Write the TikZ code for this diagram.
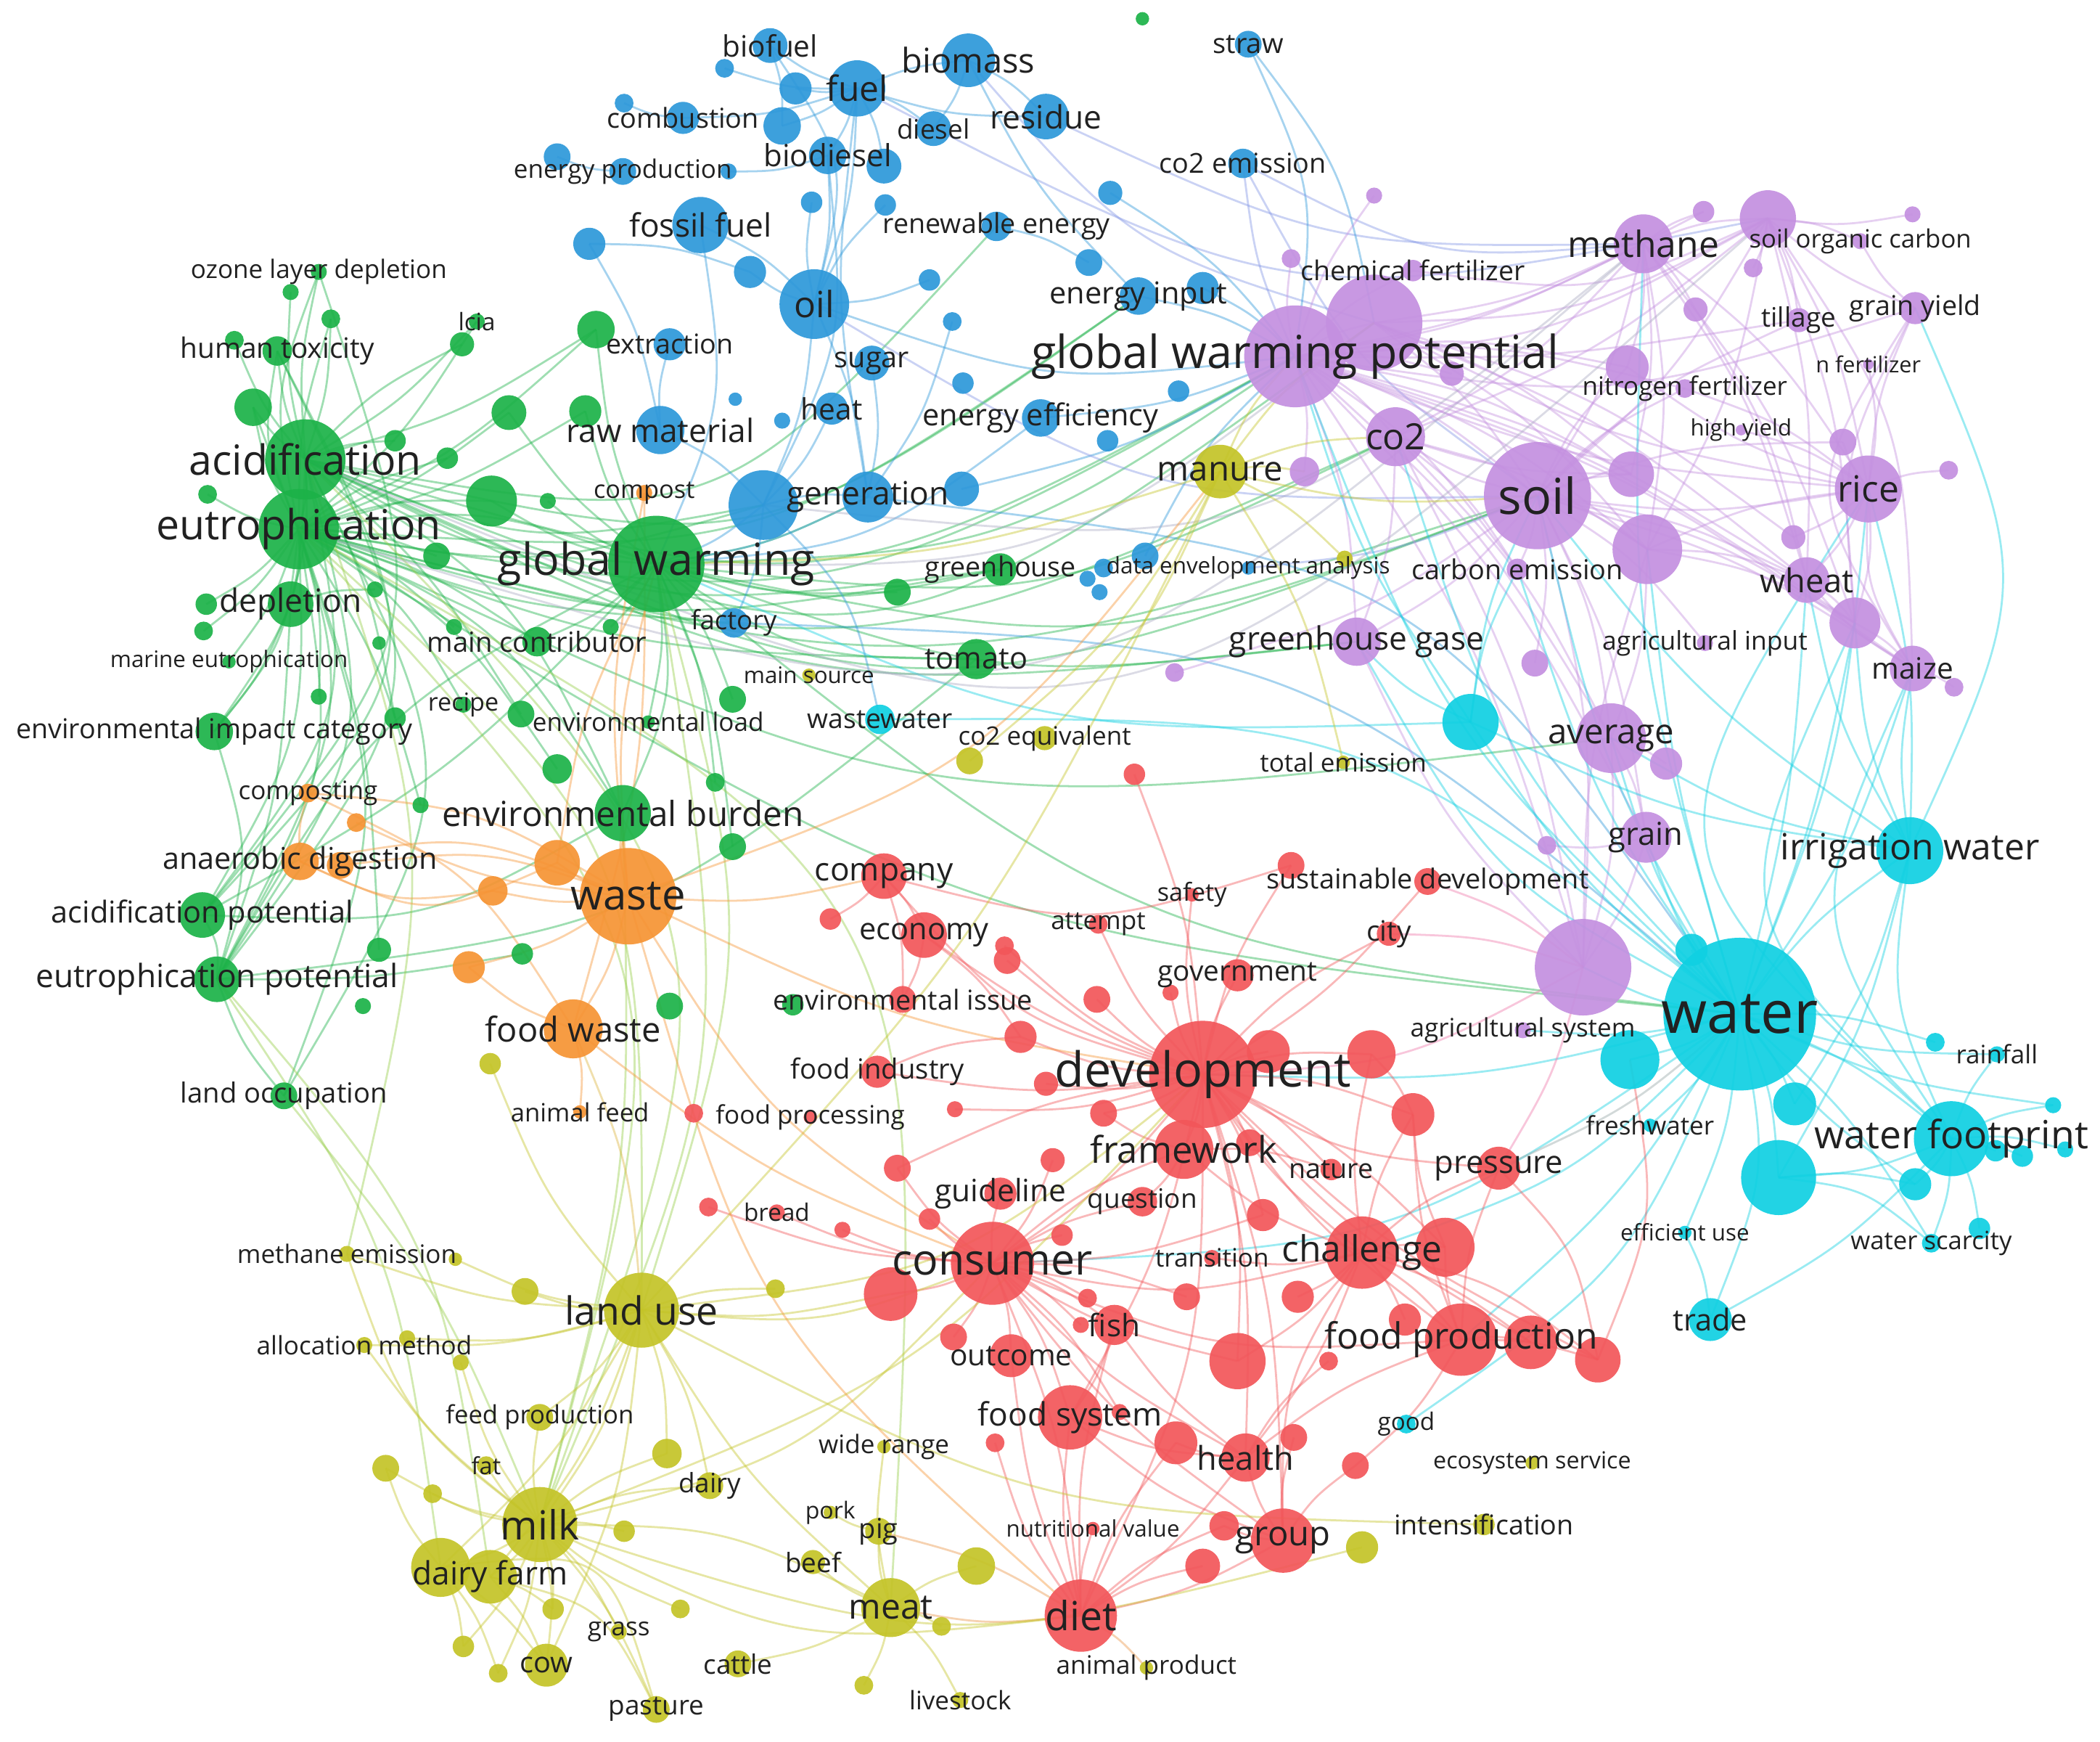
\documentclass[tikz,border=0pt]{standalone}
\usepackage{fontspec}
\setmainfont{Open Sans}
\usetikzlibrary{calc}
\pgfdeclarelayer{bg}
\pgfdeclarelayer{edges}
\pgfdeclarelayer{labels}
\pgfsetlayers{bg,edges,main,labels}
\definecolor{cR}{RGB}{242,86,90}
\definecolor{cG}{RGB}{28,178,72}
\definecolor{cB}{RGB}{45,152,218}
\definecolor{cY}{RGB}{196,196,40}
\definecolor{cP}{RGB}{196,144,224}
\definecolor{cC}{RGB}{16,208,226}
\definecolor{cO}{RGB}{246,148,52}
\definecolor{cGY}{RGB}{150,205,70}
\definecolor{cBP}{RGB}{130,150,230}
\definecolor{cPX}{RGB}{170,170,195}
\definecolor{cRP}{RGB}{240,120,170}
\definecolor{cRC}{RGB}{150,165,165}
\definecolor{cYR}{RGB}{235,150,70}
\definecolor{cOY}{RGB}{220,180,60}
\tikzset{
 vnode/.style={circle,inner sep=0pt,draw=none,fill opacity=0.92},
 vlabel/.style={inner sep=0pt,text=black!87},
 edge/.style={line width=1.5pt,draw opacity=0.42}
}
\newcommand\vn[7]{\node[vnode,fill=#5,minimum size={2*#4pt}] (#1) at (#2,#3) {};
 \begin{pgfonlayer}{labels}\node[vlabel,font=\fontsize{#6}{#6}\selectfont] (#1-l) at (#2,#3) {#7};\end{pgfonlayer}}
\newcommand\vd[5]{\node[vnode,fill=#5,minimum size={2*#4pt}] (#1) at (#2,#3) {};}
\begin{document}
\begin{tikzpicture}[x=1pt,y=-1pt]
\begin{pgfonlayer}{bg}
\fill[white] (0,0) rectangle (1568,1300);
\end{pgfonlayer}
\useasboundingbox (0,0) rectangle (1568,1300);
% ---------- blue
\vn{biofuel}{575}{34}{13}{cB}{22}{biofuel}
\vd{b2}{541}{51}{7}{cB}
\vd{b3}{594}{66}{12}{cB}
\vn{fuel}{640}{66}{21}{cB}{26}{fuel}
\vn{biomass}{723}{45}{20}{cB}{25.5}{biomass}
\vn{comb}{510}{88}{12}{cB}{20.5}{combustion}
\vd{b4}{466}{77}{7}{cB}
\vd{b5}{584}{94}{14}{cB}
\vn{diesel}{697}{96}{13}{cB}{20}{diesel}
\vn{residue}{781}{87}{17}{cB}{24}{residue}
\vn{biodiesel}{618}{116}{14}{cB}{22.8}{biodiesel}
\vd{b6}{660}{124}{13}{cB}
\vd{b7}{544}{128}{6}{cB}
\vn{enprod}{465}{128}{10}{cB}{19}{energy production}
\vd{b8}{416}{117}{10}{cB}
\vn{co2em}{928}{122}{11}{cB}{20.5}{co2 emission}
\vd{b9}{606}{151}{8}{cB}
\vd{b10}{661}{153}{8}{cB}
\vd{b11}{829}{144}{9}{cB}
\vn{renew}{744}{169}{11}{cB}{20.4}{renewable energy}
\vn{fossil}{523}{168}{21}{cB}{24}{fossil fuel}
\vd{b12}{440}{182}{12}{cB}
\vd{b13}{560}{203}{12}{cB}
\vn{oil}{608}{227}{26}{cB}{27}{oil}
\vd{b14}{694}{209}{8}{cB}
\vd{b15}{813}{196}{10}{cB}
\vn{eninput}{850}{221}{14}{cB}{22.5}{energy input}
\vd{b16}{898}{215}{12}{cB}
\vn{extract}{500}{257}{12}{cB}{20.4}{extraction}
\vd{b17}{711}{240}{7}{cB}
\vn{sugar}{651}{271}{13}{cB}{21.5}{sugar}
\vd{b18}{719}{286}{8}{cB}
\vd{b19}{880}{292}{8}{cB}
\vd{b20}{549}{298}{5}{cB}
\vd{b21}{584}{314}{6}{cB}
\vn{heat}{621}{305}{12}{cB}{22}{heat}
\vn{rawmat}{493}{321}{18}{cB}{24}{raw material}
\vn{eneff}{777}{312}{14}{cB}{22.5}{energy efficiency}
\vd{b22}{827}{329}{8}{cB}
\vd{b23}{570}{377}{26}{cB}
\vn{gener}{648}{371}{19}{cB}{24}{generation}
\vd{b24}{718}{365}{13}{cB}
\vn{factory}{548}{465}{11}{cB}{19.8}{factory}
\vd{b25}{855}{415}{10}{cB}
\vd{b26}{824}{424}{7}{cB}
\vd{b27}{812}{432}{6}{cB}
\vd{b28}{821}{442}{6}{cB}
\vn{dea}{932}{424}{5}{cB}{17}{data envelopment analysis}
\vn{straw}{932}{33}{10}{cB}{20.6}{straw}
% ---------- cyan
\vn{wastew}{657}{537}{11}{cC}{20.2}{wastewater}
\vd{c1}{1098}{539}{21}{cC}
\vn{irrig}{1426}{635}{25}{cC}{27}{irrigation water}
\vn{water}{1299}{757}{57}{cC}{44}{water}
\vd{c2}{1263}{709}{12}{cC}
\vd{c3}{1217}{791}{22}{cC}
\vd{c4}{1445}{778}{7}{cC}
\vn{rainfall}{1491}{787}{6}{cC}{19}{rainfall}
\vd{c5}{1340}{824}{16}{cC}
\vn{freshw}{1232}{840}{5}{cC}{19}{freshwater}
\vd{c6}{1533}{825}{6}{cC}
\vn{wfoot}{1457}{850}{28}{cC}{29}{water footprint}
\vd{c7}{1490}{859}{8}{cC}
\vd{c8}{1510}{863}{8}{cC}
\vd{c9}{1542}{858}{6}{cC}
\vd{c10}{1328}{879}{28}{cC}
\vd{c11}{1430}{884}{12}{cC}
\vd{c12}{1478}{917}{8}{cC}
\vn{wscar}{1442}{928}{7}{cC}{18.8}{water scarcity}
\vn{effuse}{1258}{920}{5}{cC}{17}{efficient use}
\vn{trade}{1277}{985}{16}{cC}{22.5}{trade}
\vn{good}{1050}{1063}{7}{cC}{18}{good}
% ---------- green
\vd{g0}{853}{14}{5}{cG}
\vn{ozone}{238}{203}{6}{cG}{19}{ozone layer depletion}
\vd{g2}{217}{218}{6}{cG}
\vd{g3}{247}{238}{7}{cG}
\vd{g4}{175}{254}{7}{cG}
\vn{humtox}{207}{262}{11}{cG}{21}{human toxicity}
\vn{lcia}{356}{240}{6}{cG}{18}{lcia}
\vd{g5}{345}{257}{9}{cG}
\vd{g6}{445}{246}{14}{cG}
\vd{g7}{189}{304}{14}{cG}
\vn{acid}{228}{343}{30}{cG}{31}{acidification}
\vd{g8}{295}{329}{8}{cG}
\vd{g9}{334}{342}{8}{cG}
\vd{g10}{380}{308}{13}{cG}
\vd{g11}{437}{307}{12}{cG}
\vd{g12}{155}{369}{7}{cG}
\vd{g13}{367}{374}{19}{cG}
\vd{g14}{409}{374}{6}{cG}
\vn{eutro}{223}{395}{30}{cG}{31}{eutrophication}
\vd{g15}{326}{415}{10}{cG}
\vn{gw}{490}{421}{36}{cG}{33}{global warming}
\vn{depl}{217}{451}{17}{cG}{24}{depletion}
\vd{g16}{154}{451}{8}{cG}
\vd{g17}{152}{471}{7}{cG}
\vd{g18}{280}{440}{6}{cG}
\vd{g19}{283}{480}{5}{cG}
\vd{g20}{339}{468}{6}{cG}
\vn{maincon}{401}{479}{11}{cG}{20.7}{main contributor}
\vd{g21}{456}{468}{6}{cG}
\vn{marine}{171}{494}{5}{cG}{17}{marine eutrophication}
\vd{g22}{238}{520}{6}{cG}
\vn{recipe}{346}{526}{6}{cG}{18.5}{recipe}
\vd{g23}{295}{536}{8}{cG}
\vd{g24}{389}{533}{10}{cG}
\vn{envimp}{160}{546}{14}{cG}{20.4}{environmental impact category}
\vn{envload}{484}{539}{5}{cG}{19}{environmental load}
\vd{g25}{416}{574}{11}{cG}
\vd{g26}{534}{584}{7}{cG}
\vd{g27}{314}{601}{6}{cG}
\vn{envburd}{465}{607}{21}{cG}{25.8}{environmental burden}
\vd{g28}{547}{522}{10}{cG}
\vd{g29}{547}{632}{10}{cG}
\vd{g30}{670}{442}{10}{cG}
\vn{greenh}{747}{425}{12}{cG}{20.4}{greenhouse}
\vn{tomato}{729}{492}{15}{cG}{22.5}{tomato}
\vn{acidpot}{151}{683}{17}{cG}{22.5}{acidification potential}
\vd{g31}{283}{709}{9}{cG}
\vd{g32}{390}{712}{8}{cG}
\vn{eutpot}{162}{731}{17}{cG}{24}{eutrophication potential}
\vd{g33}{271}{751}{6}{cG}
\vd{g34}{500}{751}{10}{cG}
\vn{landocc}{212}{818}{10}{cG}{20.7}{land occupation}
\vd{g35}{592}{750}{8}{cG}
% ---------- orange
\vn{compost}{481}{368}{6}{cO}{18.6}{compost}
\vn{composting}{230}{592}{7}{cO}{19}{composting}
\vd{o1}{266}{614}{7}{cO}
\vn{anaer}{224}{643}{14}{cO}{22.4}{anaerobic digestion}
\vd{o2}{254}{646}{10}{cO}
\vd{o3}{416}{644}{17}{cO}
\vd{o4}{368}{665}{11}{cO}
\vn{waste}{469}{669}{36}{cO}{31.5}{waste}
\vd{o5}{350}{722}{12}{cO}
\vn{foodwaste}{428}{768}{22}{cO}{25.5}{food waste}
\vn{animfeed}{433}{830}{5}{cO}{18.8}{animal feed}
% ---------- purple
\vd{p1}{1026}{146}{6}{cP}
\vd{p2}{964}{193}{7}{cP}
\vn{chemfert}{1055}{202}{8}{cP}{20.3}{chemical fertilizer}
\vd{p3}{1026}{241}{36}{cP}
\vn{gwp}{967}{266}{38}{cP}{34}{global warming potential}
\vn{methane}{1227}{182}{22}{cP}{27}{methane}
\vd{p4}{1272}{158}{8}{cP}
\vd{p5}{1320}{163}{21}{cP}
\vn{soc}{1389}{180}{6}{cP}{18.8}{soil organic carbon}
\vd{p6}{1428}{160}{6}{cP}
\vd{p7}{1309}{200}{7}{cP}
\vd{p7b}{1266}{231}{9}{cP}
\vn{tillage}{1343}{239}{9}{cP}{20}{tillage}
\vn{grainy}{1430}{230}{12}{cP}{20.4}{grain yield}
\vn{nfert}{1395}{272}{4}{cP}{16.6}{n fertilizer}
\vd{p8}{1215}{274}{16}{cP}
\vd{p9}{1084}{279}{9}{cP}
\vn{nitfert}{1258}{290}{7}{cP}{19}{nitrogen fertilizer}
\vn{highy}{1300}{321}{4}{cP}{16.9}{high yield}
\vd{p10}{1376}{330}{10}{cP}
\vd{p11}{1455}{351}{7}{cP}
\vn{co2}{1042}{326}{22}{cP}{27}{co2}
\vd{p12}{974}{352}{11}{cP}
\vn{soil}{1148}{370}{40}{cP}{37}{soil}
\vd{p13}{1218}{354}{17}{cP}
\vn{rice}{1395}{365}{25}{cP}{27}{rice}
\vd{p14}{1230}{410}{26}{cP}
\vd{p15}{1339}{401}{9}{cP}
\vn{carbem}{1133}{425}{8}{cP}{20.5}{carbon emission}
\vn{wheat}{1349}{433}{17}{cP}{24.5}{wheat}
\vd{p16}{1385}{465}{19}{cP}
\vn{agrinp}{1273}{480}{6}{cP}{19.2}{agricultural input}
\vd{p17}{1146}{495}{10}{cP}
\vn{maize}{1428}{499}{17}{cP}{22}{maize}
\vd{p18}{1459}{513}{7}{cP}
\vn{ghg}{1013}{479}{18}{cP}{24}{greenhouse gase}
\vd{p19}{877}{502}{7}{cP}
\vn{average}{1203}{551}{26}{cP}{25.7}{average}
\vd{p20}{1244}{570}{12}{cP}
\vn{grain}{1229}{625}{19}{cP}{23.6}{grain}
\vd{p21}{1155}{631}{7}{cP}
\vd{p22}{1182}{722}{36}{cP}
\vn{agrsys}{1137}{769}{6}{cP}{19}{agricultural system}
% ---------- yellow
\vn{manure}{911}{352}{20}{cY}{25.7}{manure}
\vd{y1}{1004}{417}{6}{cY}
\vn{msource}{604}{504}{5}{cY}{17}{main source}
\vd{y2}{724}{568}{10}{cY}
\vn{co2eq}{780}{551}{9}{cY}{19}{co2 equivalent}
\vn{totem}{1003}{569}{5}{cY}{19}{total emission}
\vd{y3}{366}{794}{8}{cY}
\vd{y4}{579}{962}{7}{cY}
\vn{methem}{259}{936}{6}{cY}{19}{methane emission}
\vd{y5}{340}{940}{5}{cY}
\vd{y6}{392}{964}{10}{cY}
\vn{landuse}{479}{978}{28}{cY}{29}{land use}
\vn{allocm}{272}{1004}{6}{cY}{19}{allocation method}
\vd{y7}{304}{999}{6}{cY}
\vd{y8}{344}{1017}{6}{cY}
\vn{feedprod}{403}{1058}{10}{cY}{18.8}{feed production}
\vd{y9}{498}{1085}{11}{cY}
\vn{fat}{363}{1094}{7}{cY}{17.6}{fat}
\vd{y10}{288}{1096}{10}{cY}
\vd{y11}{323}{1115}{7}{cY}
\vn{dairy}{530}{1109}{10}{cY}{20}{dairy}
\vn{milk}{403}{1138}{28}{cY}{30}{milk}
\vd{y12}{466}{1143}{8}{cY}
\vd{y0}{329}{1170}{22}{cY}
\vn{dairyfarm}{366}{1177}{20}{cY}{24}{dairy farm}
\vd{y13}{413}{1201}{8}{cY}
\vd{y14}{508}{1201}{7}{cY}
\vn{grass}{462}{1218}{6}{cY}{19}{grass}
\vd{y15}{346}{1229}{8}{cY}
\vn{cow}{408}{1243}{16}{cY}{21.5}{cow}
\vd{y16}{372}{1249}{7}{cY}
\vn{pasture}{490}{1276}{10}{cY}{20}{pasture}
\vn{widerange}{660}{1080}{5}{cY}{19}{wide range}
\vn{pork}{620}{1129}{5}{cY}{17.4}{pork}
\vn{pig}{656}{1143}{10}{cY}{20.6}{pig}
\vn{beef}{607}{1166}{9}{cY}{20}{beef}
\vd{y17}{729}{1169}{14}{cY}
\vn{meat}{665}{1200}{22}{cY}{26}{meat}
\vd{y18}{703}{1214}{7}{cY}
\vn{cattle}{551}{1242}{10}{cY}{20}{cattle}
\vd{y19}{645}{1258}{7}{cY}
\vn{animprod}{856}{1245}{5}{cY}{19}{animal product}
\vn{livestock}{717}{1269}{6}{cY}{19}{livestock}
\vd{y20}{1017}{1155}{12}{cY}
\vn{ecoserv}{1144}{1092}{5}{cY}{17.5}{ecosystem service}
\vn{intens}{1108}{1138}{8}{cY}{20.4}{intensification}
% ---------- red
\vn{company}{660}{654}{17}{cR}{24}{company}
\vd{r1}{620}{686}{8}{cR}
\vn{economy}{690}{698}{17}{cR}{22.5}{economy}
\vd{r2}{750}{706}{7}{cR}
\vd{r3}{752}{717}{10}{cR}
\vn{attempt}{820}{690}{7}{cR}{19}{attempt}
\vn{safety}{890}{668}{5}{cR}{18.6}{safety}
\vd{r4}{964}{646}{10}{cR}
\vn{sustdev}{1066}{658}{10}{cR}{20.5}{sustainable development}
\vn{city}{1037}{697}{9}{cR}{21}{city}
\vn{govt}{924}{728}{12}{cR}{21}{government}
\vd{r5}{874}{741}{6}{cR}
\vd{r6}{819}{746}{10}{cR}
\vn{envissue}{674}{746}{10}{cR}{20.5}{environmental issue}
\vd{r7}{762}{774}{12}{cR}
\vn{foodind}{655}{800}{12}{cR}{20.7}{food industry}
\vd{r8}{713}{828}{6}{cR}
\vd{r9}{518}{831}{7}{cR}
\vn{foodproc}{605}{834}{5}{cR}{19}{food processing}
\vd{r10}{781}{809}{9}{cR}
\vn{devel}{898}{802}{40}{cR}{36}{development}
\vd{r11}{947}{785}{16}{cR}
\vd{r12}{1024}{787}{18}{cR}
\vd{r13}{824}{831}{10}{cR}
\vd{r14}{1055}{832}{16}{cR}
\vd{r15}{933}{853}{10}{cR}
\vn{framework}{884}{858}{22}{cR}{27.5}{framework}
\vd{r16}{670}{872}{10}{cR}
\vd{r17}{786}{866}{9}{cR}
\vn{nature}{994}{873}{8}{cR}{20.4}{nature}
\vn{pressure}{1119}{872}{16}{cR}{23.6}{pressure}
\vd{r18}{529}{901}{7}{cR}
\vn{bread}{580}{905}{6}{cR}{18}{bread}
\vd{r19}{629}{918}{6}{cR}
\vd{r20}{694}{910}{8}{cR}
\vn{guideline}{747}{891}{12}{cR}{23}{guideline}
\vn{question}{853}{897}{11}{cR}{20}{question}
\vd{r21}{943}{907}{12}{cR}
\vd{r22}{793}{922}{8}{cR}
\vn{consumer}{741}{943}{31}{cR}{32}{consumer}
\vd{r23}{665}{966}{20}{cR}
\vn{transition}{905}{939}{6}{cR}{19}{transition}
\vn{challenge}{1017}{935}{27}{cR}{27}{challenge}
\vd{r24}{1079}{931}{22}{cR}
\vd{r25}{812}{969}{7}{cR}
\vd{r26}{807}{989}{6}{cR}
\vn{fish}{832}{989}{15}{cR}{23}{fish}
\vd{r27}{886}{968}{10}{cR}
\vd{r28}{969}{968}{12}{cR}
\vd{r29}{1049}{985}{12}{cR}
\vd{r30}{712}{998}{10}{cR}
\vn{outcome}{755}{1012}{16}{cR}{22}{outcome}
\vd{r31}{924}{1016}{21}{cR}
\vd{r32}{992}{1016}{7}{cR}
\vd{r33}{1143}{1002}{20}{cR}
\vd{r34}{1193}{1015}{17}{cR}
\vn{foodprodn}{1091}{1000}{27}{cR}{27}{food production}
\vn{foodsys}{799}{1058}{24}{cR}{24}{food system}
\vd{r35}{836}{1054}{6}{cR}
\vd{r36}{743}{1077}{7}{cR}
\vd{r37}{878}{1077}{16}{cR}
\vn{health}{930}{1088}{18}{cR}{24.5}{health}
\vd{r38}{966}{1073}{10}{cR}
\vd{r39}{1012}{1094}{10}{cR}
\vn{nutval}{816}{1141}{5}{cR}{17}{nutritional value}
\vd{r40}{914}{1139}{11}{cR}
\vn{group}{958}{1150}{24}{cR}{25.6}{group}
\vd{r41}{898}{1169}{13}{cR}
\vn{diet}{807}{1206}{27}{cR}{30}{diet}
\vd{r42}{847}{578}{8}{cR}
% ---------- edges
\begin{pgfonlayer}{edges}
\foreach \a/\b/\c/\k in {
acid/eutro/cG/0, eutro/gw/cG/8, acid/gw/cG/-8, eutro/b23/cG/-8, acid/b23/cG/-10, eutro/greenh/cG/-8, acid/greenh/cG/-10,
eutro/gwp/cG/-12, acid/gwp/cG/-14, acid/p3/cG/-18, eutro/co2/cG/-12, eutro/soil/cG/-10, acid/soil/cG/-14, eutro/water/cG/-8,
eutro/tomato/cG/-6, eutro/factory/cG/-5, acid/ghg/cG/-10, eutro/average/cG/-10, acid/eninput/cG/-15, eutro/eninput/cG/-12,
acid/renew/cG/-18, acid/humtox/cG/5, acid/ozone/cG/5, acid/g2/cG/5, acid/g3/cG/-5, acid/g4/cG/5, acid/g7/cG/0, eutro/g7/cG/0,
eutro/humtox/cG/10, eutro/ozone/cG/10, eutro/g3/cG/5, eutro/lcia/cG/-5, acid/lcia/cG/-5, acid/g5/cG/0, acid/g6/cG/-5,
eutro/g6/cG/-5, eutro/g10/cG/-5, eutro/g13/cG/0, eutro/g11/cG/-5, eutro/g9/cG/0, acid/g8/cG/0, eutro/g12/cG/0,
gw/g13/cG/0, gw/g11/cG/0, gw/g10/cG/5, gw/g6/cG/5, gw/envburd/cG/10, gw/maincon/cG/0, gw/envload/cG/0, gw/tomato/cG/-10,
gw/greenh/cG/-8, gw/gener/cG/-5, gw/gwp/cG/-10, gw/soil/cG/-10, gw/co2/cG/-10, gw/water/cG/-10, gw/ghg/cG/-8, gw/c1/cC/-8,
gw/g28/cG/0, gw/g30/cG/-5, eutro/depl/cG/0, acid/depl/cG/5, eutro/envimp/cG/10, acid/envimp/cG/10, depl/envimp/cG/5,
acid/acidpot/cG/15, eutro/acidpot/cG/10, acid/eutpot/cG/15, eutro/eutpot/cG/12, humtox/acidpot/cG/22, humtox/eutpot/cG/20,
ozone/acidpot/cG/18, g7/eutpot/cG/15, acid/landocc/cG/18, eutro/landocc/cG/12, depl/eutpot/cG/5, acidpot/eutpot/cG/10,
envimp/eutpot/cG/10, eutro/envburd/cG/10, acid/envburd/cG/10, eutro/maincon/cG/5, eutro/recipe/cG/8, acid/g24/cG/5,
eutro/g25/cG/8, depl/g18/cG/0, acidpot/envburd/cG/-10, eutpot/g32/cG/-3, eutpot/tomato/cG/-10, eutpot/gw/cG/10,
acidpot/gw/cG/-5, landocc/eutpot/cG/0, eutro/g15/cG/0, eutro/g20/cG/0, eutro/g16/cG/0, eutro/g17/cG/0, eutro/marine/cG/0,
eutro/g22/cG/0, acid/g23/cG/5, eutro/g27/cG/5, gw/g14/cG/0, gw/g26/cG/0, gw/g29/cG/5, gw/g21/cG/0, eutro/g31/cG/5,
eutro/landuse/cGY/15, acid/milk/cGY/20, eutro/milk/cGY/18, eutpot/dairyfarm/cGY/10, landocc/milk/cGY/5, eutpot/y0/cGY/8,
acid/methem/cGY/10, gw/landuse/cGY/10, envburd/milk/cGY/5, gw/milk/cGY/10, eutro/meat/cGY/20,
fuel/oil/cB/0, fuel/biodiesel/cB/0, fuel/biofuel/cB/0, fuel/biomass/cB/5, fuel/b3/cB/0, fuel/diesel/cB/0, fuel/b5/cB/0,
fuel/b6/cB/0, fuel/comb/cB/5, fuel/residue/cB/-5, biodiesel/oil/cB/5, biofuel/b5/cB/0, oil/gener/cB/5, oil/b23/cB/0,
oil/b9/cB/0, oil/b10/cB/0, oil/b13/cB/0, fuel/gener/cB/-5, biodiesel/b23/cB/10, biofuel/oil/cB/15, biomass/eninput/cB/-5,
biomass/residue/cB/0, biomass/diesel/cB/0, biomass/p3/cBP/-10, fuel/p5/cBP/-12, residue/methane/cBP/-8, straw/gwp/cB/10,
straw/p3/cB/8, co2em/gwp/cBP/-5, co2em/methane/cBP/-10, co2em/soil/cBP/-8, rawmat/b23/cB/0, rawmat/extract/cB/0,
b12/rawmat/cB/0, b12/b13/cB/0, gener/water/cB/15, factory/water/cB/12, gener/gw/cB/5, eninput/gwp/cB/0, eneff/gwp/cB/-5,
heat/b23/cB/0, sugar/gener/cB/0, b24/gwp/cB/-5, b23/gener/cB/0, b23/gw/cB/0, oil/gwp/cB/-8, oil/soil/cBP/-10, fossil/oil/cB/0,
fossil/gw/cB/10, b23/factory/cB/0, renew/b15/cB/0, eneff/gw/cB/10, b25/gwp/cB/0, dea/soil/cBP/-5, b16/gwp/cB/0,
b23/wastew/cB/10, comb/b4/cB/0, enprod/b8/cB/0, biodiesel/b7/cB/0, fuel/b2/cB/0, b11/gwp/cB/0, b14/oil/cB/0, b17/gener/cB/0,
gwp/methane/cP/-5, gwp/p4/cP/-5, gwp/p5/cP/-8, gwp/p3/cP/0, gwp/co2/cP/0, gwp/soil/cP/0, gwp/rice/cP/-5, gwp/wheat/cP/5,
gwp/maize/cP/5, gwp/average/cP/5, gwp/grain/cP/5, gwp/p22/cP/5, gwp/p8/cP/0, gwp/nitfert/cP/0, gwp/tillage/cP/-3,
gwp/p13/cP/0, gwp/p14/cP/0, gwp/carbem/cP/0, gwp/ghg/cP/0, gwp/p12/cP/0, gwp/p2/cP/0, gwp/p1/cP/0, gwp/chemfert/cP/0,
gwp/p9/cP/0, gwp/grainy/cP/-8, gwp/p16/cP/5, p3/methane/cP/-5, p3/soil/cP/0, p3/p15/cP/0, p3/rice/cP/-5, p3/p5/cP/-8,
p3/p14/cP/0, p3/wheat/cP/5, p3/p13/cP/0, methane/p4/cP/0, methane/soil/cP/0, methane/rice/cP/0, methane/p13/cP/0,
methane/p14/cP/0, methane/wheat/cP/0, methane/p8/cP/0, methane/co2/cP/0, methane/p16/cP/0, methane/p5/cP/0, methane/p7b/cP/0,
p5/rice/cP/0, p5/wheat/cP/5, p5/maize/cP/10, p5/grainy/cP/-5, p5/tillage/cP/0, p5/soil/cP/0, p5/p14/cP/0, p5/p16/cP/5,
p5/p7/cP/0, p5/soc/cP/0, p5/p6/cP/-5, p5/co2/cP/5, p5/chemfert/cP/10, soil/rice/cP/-5, soil/wheat/cP/5, soil/maize/cP/5,
soil/average/cP/0, soil/p22/cP/5, soil/grain/cP/0, soil/p14/cP/0, soil/p13/cP/0, soil/co2/cP/0, soil/ghg/cP/0, soil/carbem/cP/0,
soil/p17/cP/0, soil/p16/cP/0, soil/agrinp/cP/0, soil/p10/cP/0, soil/tillage/cP/0, soil/nitfert/cP/0, soil/p8/cP/0,
rice/wheat/cP/0, rice/p16/cP/0, rice/maize/cP/-10, rice/grainy/cP/0, rice/p10/cP/0, rice/p15/cP/0, rice/p14/cP/-5,
rice/p11/cP/0, grainy/maize/cP/-20, grainy/soc/cP/0, grainy/p16/cP/-10, co2/p22/cP/5, co2/carbem/cP/0, co2/average/cP/5,
co2/p14/cP/0, co2/p13/cP/-5, co2/ghg/cP/0, average/p22/cP/0, average/grain/cP/0, grain/p22/cP/0, p22/ghg/cP/0, p22/p14/cP/5,
p14/wheat/cP/0, p14/p16/cP/0, p14/average/cP/0, wheat/p16/cP/0, wheat/maize/cP/-5, p16/maize/cP/0, nitfert/rice/cP/0,
p8/rice/cP/-5, p7b/wheat/cP/0, highy/rice/cP/0, average/p20/cP/0, grain/p21/cP/0, soil/p19/cP/0, maize/p18/cP/0, nfert/rice/cP/0,
acid/p5/cPX/-20, eutro/methane/cPX/-18, gw/p3/cPX/-12, b23/methane/cPX/-14, devel/p22/cRP/-8, sustdev/p22/cRP/0, city/p22/cRP/5,
water/irrig/cC/5, water/wfoot/cC/5, water/c3/cC/0, water/c5/cC/0, water/c10/cC/0, water/c11/cC/-5, water/rainfall/cC/-5,
water/c4/cC/0, water/c6/cC/-5, water/freshw/cC/0, water/trade/cC/10, water/effuse/cC/0, water/wscar/cC/5, water/c2/cC/0,
water/c1/cC/5, water/average/cC/5, water/grain/cC/5, water/maize/cC/-5, water/rice/cC/-5, water/wheat/cC/-3, water/p16/cC/-3,
water/soil/cC/5, water/ghg/cC/10, water/p14/cC/3, water/methane/cC/0, water/wastew/cC/-12, water/devel/cC/5,
water/challenge/cC/8, water/foodprodn/cC/5, water/consumer/cC/10, water/good/cC/10, water/p22/cC/0, water/agrsys/cC/5,
water/gwp/cC/8, water/co2/cC/8, water/carbem/cC/5, irrig/wfoot/cC/-10, irrig/maize/cC/5, irrig/rice/cC/-5, irrig/wheat/cC/0,
irrig/soil/cC/5, irrig/c1/cC/5, irrig/average/cC/0, irrig/grainy/cC/-15, irrig/p16/cC/0, irrig/c5/cC/5, irrig/c10/cC/5,
wfoot/c10/cC/0, wfoot/c11/cC/0, wfoot/wscar/cC/0, wfoot/c12/cC/0, wfoot/c7/cC/0, wfoot/c8/cC/0, wfoot/c9/cC/0,
wfoot/rainfall/cC/0, wfoot/c6/cC/0, c10/c11/cC/5, c10/wscar/cC/10, wfoot/rice/cC/25, wfoot/p16/cC/22, wfoot/maize/cC/18,
wfoot/trade/cC/5, c1/ghg/cC/0, c1/soil/cC/0, c1/carbem/cC/0, c1/gwp/cC/5, effuse/trade/cC/0,
devel/framework/cR/0, devel/consumer/cR/5, devel/challenge/cR/-5, devel/foodprodn/cR/-5, devel/pressure/cR/-8, devel/r12/cR/0,
devel/r11/cR/0, devel/r14/cR/0, devel/company/cR/10, devel/economy/cR/5, devel/govt/cR/0, devel/sustdev/cR/-5, devel/r4/cR/0,
devel/health/cR/5, devel/diet/cR/8, devel/foodsys/cR/5, devel/r13/cR/0, devel/r15/cR/0, devel/r6/cR/0, devel/r7/cR/0,
devel/nature/cR/0, devel/city/cR/0, devel/r10/cR/0, devel/r21/cR/0, devel/r31/cR/0, devel/group/cR/5, devel/foodind/cR/5,
devel/attempt/cR/0, devel/r24/cR/0, devel/r33/cR/-5, devel/r34/cR/-5, consumer/r23/cR/0, consumer/diet/cR/5, consumer/fish/cR/0,
consumer/outcome/cR/0, consumer/foodsys/cR/0, consumer/health/cR/-5, consumer/group/cR/-5, consumer/challenge/cR/-8,
consumer/r22/cR/0, consumer/r20/cR/0, consumer/guideline/cR/0, consumer/r21/cR/-5, consumer/r25/cR/0, consumer/r27/cR/0,
consumer/r31/cR/-5, consumer/foodprodn/cR/-8, consumer/r30/cR/0, consumer/framework/cR/0, consumer/r16/cR/0,
consumer/question/cR/0, challenge/foodprodn/cR/5, challenge/r24/cR/0, challenge/r33/cR/5, challenge/r34/cR/8,
challenge/pressure/cR/0, challenge/r29/cR/0, challenge/r31/cR/0, challenge/health/cR/5, challenge/r12/cR/0, challenge/r14/cR/0,
challenge/r28/cR/0, challenge/framework/cR/0, foodprodn/r33/cR/0, foodprodn/r34/cR/5, foodprodn/pressure/cR/0,
foodprodn/r24/cR/0, foodprodn/health/cR/-5, foodprodn/r14/cR/0, diet/group/cR/-5, diet/health/cR/-5, diet/foodsys/cR/0,
diet/r41/cR/0, diet/r40/cR/0, diet/fish/cR/5, diet/nutval/cR/0, diet/r37/cR/0, diet/r36/cR/0, diet/outcome/cR/5,
group/health/cR/0, group/r39/cR/0, group/r40/cR/0, group/challenge/cR/10, group/r38/cR/0, group/foodsys/cR/0,
health/foodsys/cR/0, health/fish/cR/5, health/r37/cR/0, fish/foodsys/cR/0, company/economy/cR/0, company/envissue/cR/0,
company/r4/cR/-10, economy/r7/cR/0, r12/r14/cR/0, r24/r14/cR/0, pressure/water/cRC/-5, pressure/p22/cRP/-5,
pressure/r34/cR/10, r34/c3/cR/-10, framework/question/cR/0, framework/nature/cR/0, framework/r13/cR/0, r17/consumer/cR/0,
foodind/r7/cR/0, economy/envissue/cR/0, r16/devel/cR/5, consumer/r26/cR/0, consumer/r35/cR/0, devel/r5/cR/0, devel/r3/cR/0,
devel/r2/cR/0, consumer/r19/cR/0, consumer/bread/cR/0, consumer/r18/cR/5, health/r32/cR/0, challenge/transition/cR/0,
devel/safety/cR/0, devel/r8/cR/0, devel/r42/cR/-5, company/r1/cR/0, foodprodn/r39/cR/0,
landuse/milk/cY/0, landuse/dairyfarm/cY/0, landuse/y0/cY/5, landuse/y6/cY/0, landuse/feedprod/cY/0, landuse/y9/cY/0,
landuse/meat/cY/-5, landuse/consumer/cY/-8, landuse/devel/cY/-10, landuse/manure/cY/-5, landuse/methem/cY/5,
landuse/allocm/cY/5, landuse/y3/cY/0, landuse/dairy/cY/0, landuse/cow/cY/0, landuse/r23/cY/-5, milk/dairyfarm/cY/0,
milk/y0/cY/0, milk/y10/cY/0, milk/fat/cY/0, milk/feedprod/cY/0, milk/cow/cY/0, milk/grass/cY/0, milk/pasture/cY/5,
milk/y12/cY/0, milk/dairy/cY/0, milk/y9/cY/0, milk/meat/cY/8, milk/y13/cY/0, milk/y14/cY/-5, milk/y11/cY/0, milk/y15/cY/0,
milk/methem/cY/10, milk/y16/cY/0, milk/diet/cY/-10, milk/consumer/cY/-10, milk/devel/cY/-8, milk/allocm/cY/5, milk/y8/cY/0,
y0/cow/cY/5, y0/pasture/cY/25, y0/y15/cY/0, y0/y16/cY/0, y0/y10/cY/0, dairyfarm/cow/cY/0, dairyfarm/pasture/cY/15,
dairyfarm/y13/cY/0, meat/beef/cY/0, meat/pig/cY/0, meat/cattle/cY/0, meat/diet/cYR/-5, meat/y17/cY/0, meat/y18/cY/0,
meat/livestock/cY/0, meat/widerange/cY/0, meat/y19/cY/0, pig/pork/cY/0, pig/diet/cYR/5, manure/co2/cY/0, manure/gwp/cY/0,
manure/p12/cY/0, manure/soil/cY/-5, manure/gw/cY/5, manure/y1/cY/0, manure/p3/cY/0, landuse/y5/cY/0, landuse/y7/cY/0,
manure/co2eq/cY/0, manure/y2/cY/0, manure/totem/cY/0, landuse/y4/cY/0, diet/animprod/cYR/0, milk/y20/cY/-10, landuse/intens/cY/-8,
waste/foodwaste/cO/0, waste/o3/cO/0, waste/o4/cO/0, waste/o5/cO/0, waste/anaer/cO/-10, waste/o2/cO/-8, waste/composting/cO/-8,
waste/envburd/cO/0, waste/company/cO/-5, waste/gw/cO/0, waste/compost/cO/5, waste/diet/cO/-10, waste/manure/cO/-10,
waste/devel/cO/-5, waste/consumer/cO/-8, waste/o1/cO/0, composting/foodwaste/cO/10, anaer/o4/cO/-10, anaer/o3/cO/-15,
foodwaste/animfeed/cO/0, foodwaste/landuse/cOY/0, foodwaste/o5/cO/0, foodwaste/consumer/cO/-5, o3/gw/cO/0,
compost/foodwaste/cO/5, anaer/composting/cO/0
}{\pgfmathsetmacro\f{ifthenelse(\k==0,0.16,tan(1.6*\k))}\draw[edge,draw=\c] (\a.center) .. controls ($(\a.center)!0.5!(\b.center)!\f!90:(\b.center)$) .. (\b.center);}
\end{pgfonlayer}
\end{tikzpicture}
\end{document}
